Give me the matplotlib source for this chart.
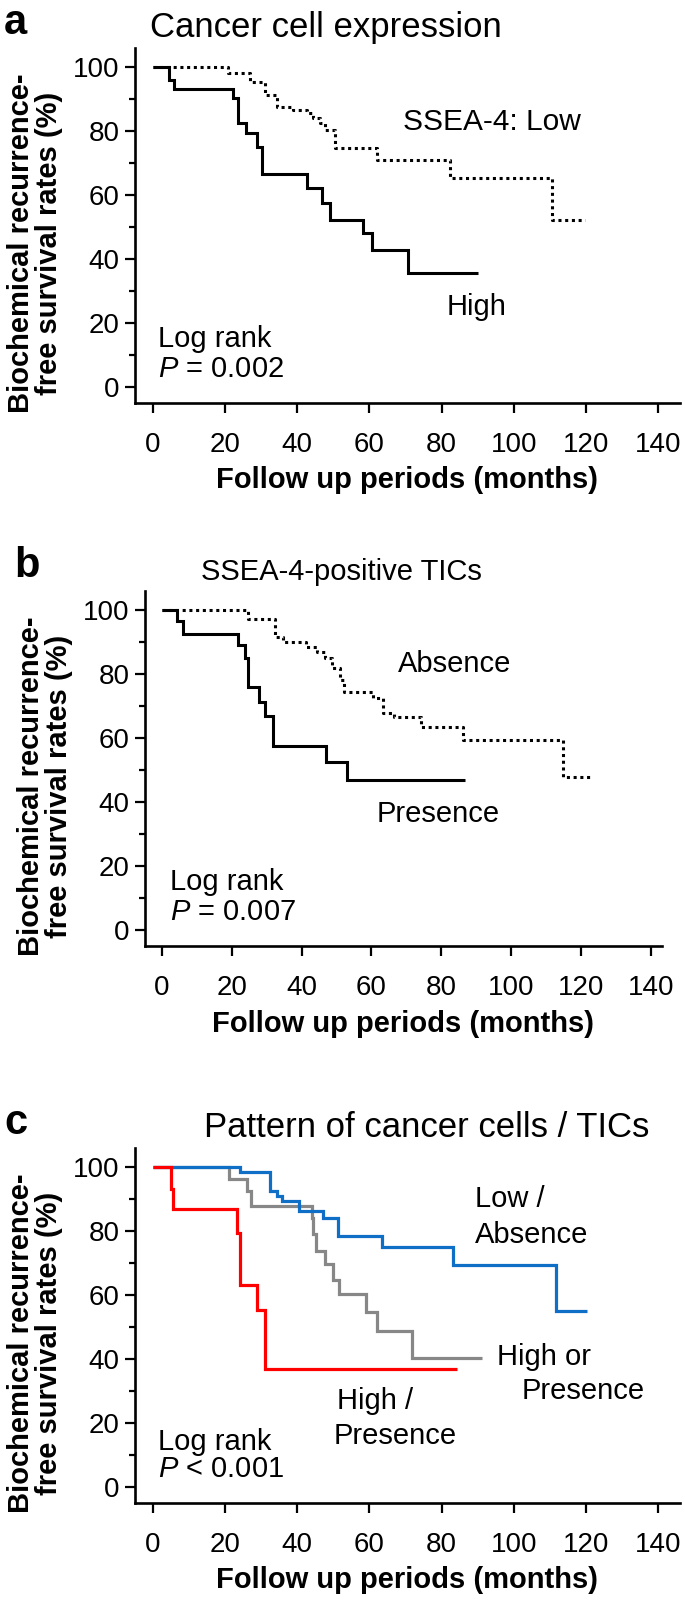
import matplotlib.pyplot as plt

plt.rcParams['font.family'] = ['Liberation Sans', 'DejaVu Sans']
plt.rcParams['mathtext.fontset'] = 'custom'
plt.rcParams['mathtext.it'] = 'Liberation Sans:italic'
plt.rcParams['mathtext.rm'] = 'Liberation Sans'

# --- data (months, survival %) ---
a_high_t = [0, 4.5, 5.7, 22.3, 23.7, 25.9, 28.7, 30.1, 42.6, 46.8, 49.1, 58.3, 60.7, 70.8, 90.1]
a_high_s = [100, 96.0, 93.2, 90.3, 82.5, 79.4, 75.2, 66.6, 62.2, 57.5, 52.3, 48.1, 42.9, 35.6, 35.6]
a_low_t = [0, 20.9, 26.9, 31.1, 34.3, 38.9, 42.6, 44.5, 46.3, 47.7, 50.5, 62.1, 82.4, 110.6, 119.8]
a_low_s = [100, 98.1, 95.5, 91.3, 87.7, 86.7, 85.6, 84.1, 82.5, 80.4, 74.7, 71.0, 65.3, 52.3, 52.3]

b_pres_t = [0, 4.5, 6.0, 21.9, 23.8, 24.8, 27.8, 29.5, 31.9, 46.9, 53.0, 86.7]
b_pres_s = [100, 96.7, 92.7, 89.0, 84.9, 76.0, 71.4, 66.9, 57.6, 52.6, 46.9, 46.9]
b_abs_t = [0, 24.8, 32.3, 34.7, 41.4, 44.3, 46.6, 48.6, 50.9, 52.1, 60.5, 63.3, 66.3, 74.3, 86.2, 114.8, 122.8]
b_abs_s = [100, 97.1, 91.7, 90.1, 88.5, 87.0, 84.9, 81.8, 78.1, 74.5, 72.4, 68.0, 66.5, 63.5, 59.4, 47.9, 47.9]

c_red_t = [0, 5.0, 5.6, 23.2, 24.0, 28.9, 31.1, 84.2]
c_red_s = [100, 93.1, 86.9, 79.5, 63.3, 55.4, 37.0, 37.0]
c_grey_t = [0, 21.2, 26.1, 27.3, 44.1, 44.5, 45.3, 47.7, 50.0, 51.6, 59.1, 62.1, 71.8, 91.1]
c_grey_s = [100, 96.3, 92.6, 87.9, 84.2, 79.0, 73.7, 69.6, 64.8, 60.3, 54.6, 48.8, 40.4, 40.4]
c_blue_t = [0, 24.2, 32.3, 34.3, 35.9, 40.6, 47.0, 51.2, 63.4, 83.3, 111.8, 120.3]
c_blue_s = [100, 98.4, 92.6, 91.0, 89.5, 86.3, 84.2, 78.5, 75.0, 69.3, 55.1, 55.1]

x_ticks = [0, 20, 40, 60, 80, 100, 120, 140]
y_ticks = [0, 20, 40, 60, 80, 100]
y_minor = [10, 30, 50, 70, 90]

W, H = 685, 1600
fig = plt.figure(figsize=(W / 100, H / 100), dpi=100)


def px_axes(left, top, right, bottom):
    return fig.add_axes([left / W, 1 - bottom / H, (right - left) / W, (bottom - top) / H])


def style(ax, xlim, title, title_x, title_size, letter):
    ax.set_xlim(*xlim)
    ax.set_ylim(-5, 106)
    ax.set_xticks(x_ticks)
    ax.set_yticks(y_ticks)
    ax.set_yticks(y_minor, minor=True)
    for s in ['top', 'right']:
        ax.spines[s].set_visible(False)
    for s in ['left', 'bottom']:
        ax.spines[s].set_linewidth(1.9)
    ax.tick_params(axis='both', which='major', length=7, width=1.6, labelsize=20, direction='out')
    ax.tick_params(axis='y', which='minor', length=4, width=1.6)
    ax.tick_params(axis='x', pad=14)
    ax.tick_params(axis='y', pad=4)
    ax.set_xlabel('Follow up periods (months)', fontsize=21, fontweight='bold', labelpad=6)
    ax.set_ylabel('Biochemical recurrence-\nfree survival rates (%)', fontsize=21,
                  fontweight='bold', linespacing=1.0)
    w_px = ax.get_position().width * W
    ax.yaxis.set_label_coords(-72 / w_px, 0.45)
    ax.set_title(title, fontsize=title_size, x=title_x, pad=8)
    ax.text(-131 / w_px, 1.04, letter, transform=ax.transAxes, fontsize=30, fontweight='bold',
            ha='left', va='baseline')


k = dict(where='post', solid_capstyle='butt', solid_joinstyle='miter')

# panel a
ax = px_axes(135, 48, 679.5, 403)
ax.step(a_low_t, a_low_s, color='black', lw=2.2, linestyle=(0, (1, 1.2)), **k)
ax.step(a_high_t, a_high_s, color='black', lw=2.2, **k)
ax.text(69.3, 80.4, 'SSEA-4: Low', fontsize=21.5, va='baseline')
ax.text(81.4, 22.6, 'High', fontsize=21, va='baseline')
ax.text(1.5, 12.5, 'Log rank', fontsize=21, va='baseline')
ax.text(1.5, 3.2, r'$\it{P}$ = 0.002', fontsize=21, va='baseline')
style(ax, (-5, 146), 'Cancer cell expression', 0.351, 25, 'a')

# panel b
ax = px_axes(145, 591, 661.7, 946)
ax.step(b_abs_t, b_abs_s, color='black', lw=2.2, linestyle=(0, (1, 1.2)), **k)
ax.step(b_pres_t, b_pres_s, color='black', lw=2.2, **k)
ax.text(67.6, 80.7, 'Absence', fontsize=21, va='baseline')
ax.text(61.6, 33.8, 'Presence', fontsize=21, va='baseline')
ax.text(2.4, 12.5, 'Log rank', fontsize=21, va='baseline')
ax.text(2.4, 3.2, r'$\it{P}$ = 0.007', fontsize=21, va='baseline')
style(ax, (-4.77, 143), 'SSEA-4-positive TICs', 0.381, 21, 'b')

# panel c
ax = px_axes(135, 1148, 679.5, 1503)
ax.step(c_grey_t, c_grey_s, color='#878787', lw=2.3, **k)
ax.step(c_blue_t, c_blue_s, color='#0f6fc6', lw=2.3, **k)
ax.step(c_red_t, c_red_s, color='#ff0000', lw=2.3, **k)
ax.text(89.3, 87.4, 'Low /', fontsize=21, va='baseline')
ax.text(89.3, 76.4, 'Absence', fontsize=21, va='baseline')
ax.text(95.3, 38.1, 'High or', fontsize=21, va='baseline')
ax.text(102.3, 27.4, 'Presence', fontsize=21, va='baseline')
ax.text(50.9, 24.5, 'High /', fontsize=21, va='baseline')
ax.text(50.0, 13.5, 'Presence', fontsize=21, va='baseline')
ax.text(1.4, 11.5, 'Log rank', fontsize=21, va='baseline')
ax.text(1.4, 3.0, r'$\it{P}$ < 0.001', fontsize=21, va='baseline')
style(ax, (-5, 146), 'Pattern of cancer cells / TICs', 0.536, 25, 'c')

fig.savefig('out.png', dpi=100)
